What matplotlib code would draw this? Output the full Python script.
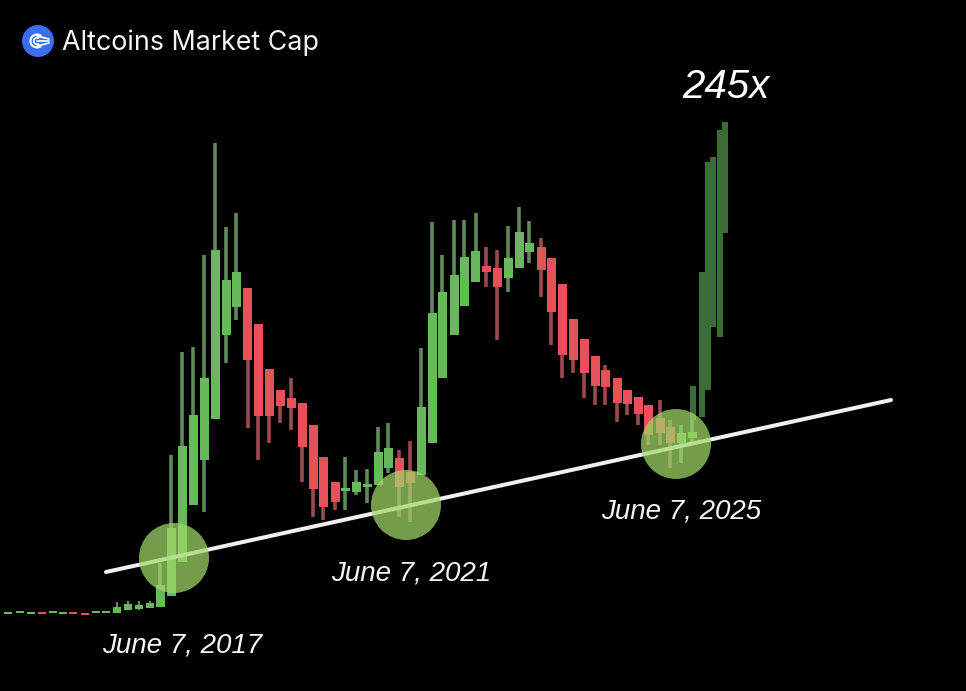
import matplotlib
matplotlib.use("Agg")
import matplotlib.pyplot as plt
from matplotlib.patches import Circle, Arc

# Candle values; the value scale runs downward.
early_x = [8, 20, 31, 42, 53, 63, 73, 85, 96, 106, 117, 128, 139, 150]
early_top = [612, 611, 612, 612, 611, 612, 612, 613, 611, 611, 607, 604, 605, 603]
early_bot = [614, 613, 614, 614, 613, 614, 614, 615, 613, 613, 613, 610, 609, 608]
early_high = [612, 611, 612, 612, 611, 612, 612, 613, 611, 611, 602, 601, 601, 601]
early_low = [614, 613, 614, 614, 613, 614, 614, 615, 613, 613, 613, 610, 610, 608]
early_dir = list("uuuruu" "rruuuuuu")

main_x = [160, 171, 182, 193, 204, 215, 226, 236, 247.5, 258, 269, 280, 291, 302, 313, 323,
          335, 345, 356, 367, 378, 388, 399, 410, 421, 432, 442, 454, 464, 475.5, 486, 497,
          508, 519, 529, 541, 551, 562, 573, 584, 595, 605, 617, 627, 638, 648, 660, 670,
          681, 692]
main_top = [585, 528, 446, 415, 378, 250, 280, 272, 288, 324, 369, 390, 398, 403, 425, 457,
            482, 488, 482, 484, 452, 448, 458, 472, 407, 313, 292, 275, 257, 251, 266, 268,
            258, 232, 243, 247, 258, 284, 319, 339, 356, 370, 378, 390, 397, 405, 418, 427,
            433, 432]
main_bot = [607, 596, 562, 505, 460, 419, 335, 307, 360, 416, 416, 406, 408, 447, 489, 507,
            502, 491, 492, 487, 485, 468, 487, 483, 475, 443, 378, 335, 306, 282, 272, 287,
            278, 268, 252, 270, 312, 355, 360, 373, 386, 387, 403, 404, 414, 435, 433, 443,
            443, 438]
main_high = [563, 455, 352, 347, 255, 143, 227, 213, 288, 324, 369, 390, 378, 403, 425, 457,
             482, 457, 470, 469, 427, 423, 450, 441, 348, 222, 255, 220, 220, 213, 247, 250,
             226, 207, 221, 238, 258, 284, 319, 339, 356, 365, 378, 390, 397, 405, 400, 420,
             425, 420]
main_low = [607, 596, 562, 505, 512, 419, 363, 320, 428, 460, 443, 423, 430, 482, 517, 520,
            510, 510, 495, 503, 485, 473, 517, 522, 475, 443, 378, 335, 306, 282, 287, 340,
            292, 268, 263, 297, 345, 378, 373, 398, 405, 405, 422, 415, 425, 445, 445, 468,
            463, 445]
main_dir = (["u"] * 8) + (["r"] * 9) + (["u"] * 5) + (["r"] * 2) + (["u"] * 6) + (["r"] * 2) + \
           (["u"] * 3) + (["r"] * 13) + (["u"] * 2)

spike_x = [693, 701.5, 708, 713, 720, 725]
spike_top = [386, 272, 162, 157, 130, 122]
spike_bot = [420, 417, 390, 327, 337, 233]

trend_x = [106, 891]
trend_y = [572, 400]

circle_x = [174, 406, 676]
circle_y = [558, 505, 444]
circle_r = 35

annotations = ["June 7, 2017", "June 7, 2021", "June 7, 2025"]
annotation_x = [182, 411.5, 681.5]
annotation_y = [646, 573, 511]
headline = "245x"
title = "Altcoins Market Cap"

UP, DOWN, DARK = "#68b95c", "#e8505a", "#3c6c35"
UP_W, DOWN_W = "#5d8a58", "#9a4a50"

plt.rcParams["font.family"] = ["Liberation Sans", "DejaVu Sans"]
fig = plt.figure(figsize=(9.66, 6.91), dpi=100, facecolor="black")
ax = fig.add_axes([0, 0, 1, 1], facecolor="black")
ax.set_xlim(0, 966)
ax.set_ylim(691, 0)
ax.axis("off")


def candles(xs, tops, bots, highs, lows, dirs, width, lw):
    for x, t, b, h, l, d in zip(xs, tops, bots, highs, lows, dirs):
        body = UP if d == "u" else DOWN
        wick = UP_W if d == "u" else DOWN_W
        ax.vlines(x, h, l, color=wick, lw=lw, zorder=2)
        ax.bar(x, b - t, bottom=t, width=width, color=body, linewidth=0, zorder=3)


candles(early_x, early_top, early_bot, early_high, early_low, early_dir, 8, 1.6)
candles(main_x, main_top, main_bot, main_high, main_low, main_dir, 9, 2.6)
for x, t, b in zip(spike_x, spike_top, spike_bot):
    ax.bar(x, b - t, bottom=t, width=6, color=DARK, linewidth=0, zorder=3)

ax.plot(trend_x, trend_y, color="#f0f0f0", lw=2.9, solid_capstyle="round", zorder=4)
for cx, cy in zip(circle_x, circle_y):
    ax.add_patch(Circle((cx, cy), circle_r, facecolor="#a0d868", alpha=0.73,
                        edgecolor="none", zorder=5))

for s, x, y in zip(annotations, annotation_x, annotation_y):
    ax.text(x, y, s, color="#f4f4f4", fontsize=20, style="italic", ha="center", va="center", zorder=6)
ax.text(726, 87, headline, color="white", fontsize=29, style="italic", ha="center", va="center", zorder=6)

# logo badge and title
ax.add_patch(Circle((38, 41), 16, facecolor="#3a6df0", edgecolor="none", zorder=6))
ax.add_patch(Arc((37, 41), 13, 13, theta1=50, theta2=310, color="white", lw=1.5, zorder=7))
ax.add_patch(Arc((37, 41), 6.5, 6.5, theta1=50, theta2=310, color="white", lw=1.3, zorder=7))
for y0, y1 in [(36, 39), (41, 41), (46, 43)]:
    ax.plot([37, 49], [y0, y1], color="white", lw=1.2, solid_capstyle="round", zorder=7)
ax.text(61.5, 43, title, color="#f4f4f4", fontsize=19.3, family=["Inter", "DejaVu Sans"],
        ha="left", va="center", zorder=6)

fig.savefig("out.png", dpi=100, facecolor="black")
